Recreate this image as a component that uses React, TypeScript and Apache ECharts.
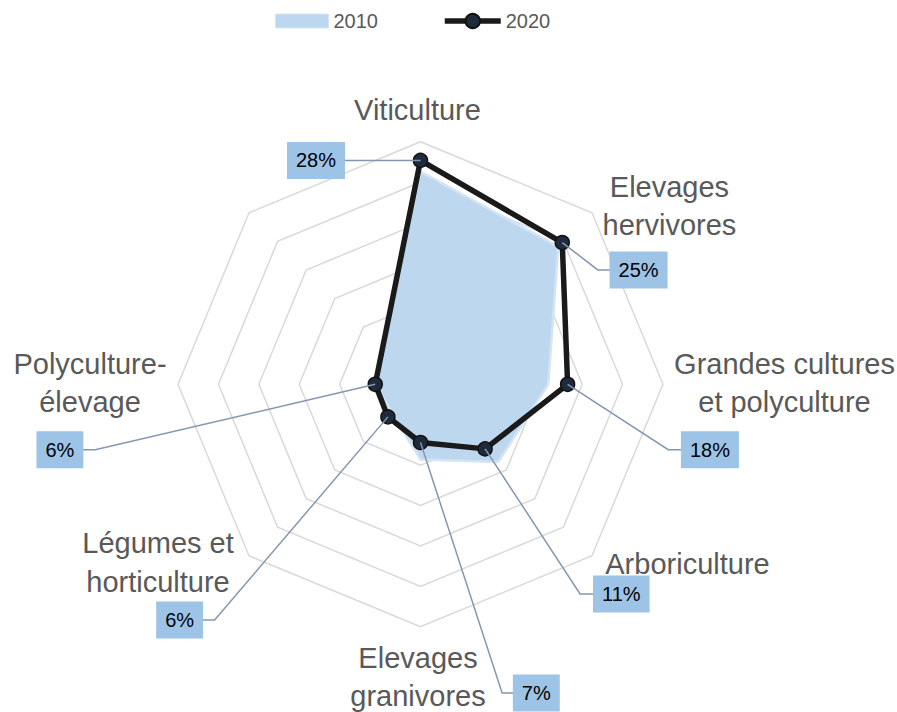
import React, { useEffect, useRef } from 'react';
import * as echarts from 'echarts';

// ---- data ----
const categories = [
  'Viticulture',
  'Elevages\nhervivores',
  'Grandes cultures\net polyculture',
  'Arboriculture',
  'Elevages\ngranivores',
  'Légumes et\nhorticulture',
  'Polyculture-\nélevage',
  '',
];
const seriesNames = ['2010', '2020'];
const values2010: (number | null)[] = [26.3, 24.1, 15.8, 13.6, 9.3, 5.0, 5.5, null];
const values2020: (number | null)[] = [27.7, 24.8, 18.2, 11.3, 7.2, 5.7, 5.6, null];
const axisMax = 30;
const axisStep = 5;

// ---- layout (offsets, not data) ----
// category name block centre, relative to the outer vertex of its axis
const nameOffsets: [number, number][] = [
  [-3, -31.5],
  [77.5, -7],
  [121.5, -1.5],
  [95.5, 7.8],
  [-2.5, 50.2],
  [-91, 6.7],
  [-88, -1.5],
  [0, 0],
];
// data label box centre (dx, dy) and leader elbow (ex, ey), relative to the point
const labelOffsets: { dx: number; dy: number; ex: number; ey: number }[] = [
  { dx: -104.5, dy: 0, ex: 0, ey: 0 },
  { dx: 76.3, dy: 27.4, ex: 35.6, ey: 27.4 },
  { dx: 142.3, dy: 65.4, ex: 100.6, ey: 65.4 },
  { dx: 136.2, dy: 145, ex: 95, ey: 145 },
  { dx: 115.8, dy: 250.6, ex: 81.6, ey: 250.6 },
  { dx: -208.3, dy: 203.2, ex: -173.3, ey: 203.2 },
  { dx: -315.3, dy: 65.5, ex: -280, ey: 65.5 },
  { dx: 0, dy: 0, ex: 0, ey: 0 },
];

const FONT = "'Liberation Sans', Arial, sans-serif";
const GRAY = '#595959';

export default function App() {
  const ref = useRef<HTMLDivElement>(null);

  useEffect(() => {
    document.body.style.margin = '0';
    const el = ref.current!;
    const chart = echarts.init(el, null, { renderer: 'svg' });
    const n = categories.length;
    const step = 360 / n;
    const center = [420.5, 384.3];
    const radius = 242.5;

    const buildData = (vals: (number | null)[]) => {
      const d: any[] = vals.map((v, i) => [v == null ? '-' : v, i * step]);
      d.push({ value: [vals[0], 360], symbol: 'none' });
      return d;
    };

    chart.setOption({
      animation: false,
      backgroundColor: '#ffffff',
      legend: [
        {
          data: [
            {
              name: seriesNames[0],
              icon: 'rect',
              itemStyle: { color: '#BDD7EE', borderColor: '#D6E6F5', borderWidth: 1 },
            },
          ],
          left: 275,
          top: 11,
          padding: 0,
          itemWidth: 53,
          itemHeight: 14,
          selectedMode: false,
          textStyle: { color: GRAY, fontSize: 20, fontFamily: FONT },
        },
        {
          data: [seriesNames[1]],
          left: 442,
          top: 11,
          padding: 0,
          itemWidth: 56,
          itemHeight: 18,
          selectedMode: false,
          lineStyle: { width: 5.5, color: '#1A1A1A' },
          textStyle: { color: GRAY, fontSize: 20, fontFamily: FONT },
        },
      ],
      radar: {
        center,
        radius,
        shape: 'polygon',
        splitNumber: axisMax / axisStep,
        indicator: categories.map((c) => ({ name: c, min: 0, max: axisMax })),
        axisName: { show: false },
        axisLine: { show: false },
        axisTick: { show: false },
        axisLabel: { show: false },
        splitArea: { show: false },
        splitLine: { lineStyle: { color: '#D9D9D9', width: 1.5 } },
        z: 0,
      },
      polar: { center, radius },
      angleAxis: {
        type: 'value',
        min: 0,
        max: 360,
        interval: step,
        startAngle: 90,
        clockwise: true,
        axisLine: { show: false },
        axisTick: { show: false },
        axisLabel: { show: false },
        splitLine: { show: false },
        splitArea: { show: false },
      },
      radiusAxis: {
        type: 'value',
        min: 0,
        max: axisMax,
        interval: axisStep,
        axisLine: { show: false },
        axisTick: { show: false },
        axisLabel: { show: false },
        splitLine: { show: false },
        splitArea: { show: false },
      },
      series: [
        {
          name: seriesNames[0],
          type: 'line',
          coordinateSystem: 'polar',
          data: buildData(values2010),
          connectNulls: true,
          symbol: 'none',
          showSymbol: false,
          lineStyle: { color: '#D3E4F4', width: 2.5 },
          itemStyle: { color: '#BDD7EE' },
          areaStyle: { color: '#BDD7EE', opacity: 1 },
          z: 2,
          silent: true,
        },
        {
          name: seriesNames[1],
          type: 'line',
          coordinateSystem: 'polar',
          data: buildData(values2020),
          connectNulls: true,
          symbol: 'circle',
          symbolSize: 14,
          showSymbol: true,
          lineStyle: { color: '#1A1A1A', width: 5.5 },
          itemStyle: { color: '#1F2B3D', borderColor: '#121212', borderWidth: 1.5 },
          z: 3,
        },
      ],
    });

    const px = (r: number, a: number) =>
      chart.convertToPixel({ polarIndex: 0 } as any, [r, a]) as unknown as number[];

    const graphics: any[] = [];
    categories.forEach((name, i) => {
      if (!name) return;
      const v = px(axisMax, i * step);
      const [ox, oy] = nameOffsets[i];
      graphics.push({
        type: 'text',
        x: v[0] + ox,
        y: v[1] + oy,
        z: 12,
        style: {
          text: name,
          fill: GRAY,
          fontSize: 29,
          fontFamily: FONT,
          lineHeight: 38.5,
          align: 'center',
          verticalAlign: 'middle',
          textAlign: 'center',
          textVerticalAlign: 'middle',
        },
      });
    });

    values2020.forEach((val, i) => {
      if (val == null) return;
      const p = px(val, i * step);
      const o = labelOffsets[i];
      const bx = p[0] + o.dx;
      const by = p[1] + o.dy;
      const elbow = [p[0] + o.ex, p[1] + o.ey];
      graphics.push({
        type: 'polyline',
        z: 10,
        shape: { points: [[p[0], p[1]], elbow, [bx, elbow[1]]] },
        style: { stroke: '#8497B0', lineWidth: 1.5, fill: 'none' },
      });
      graphics.push({
        type: 'text',
        x: bx,
        y: by,
        z: 11,
        style: {
          text: `${Math.round(val)}%`,
          fill: '#000000',
          fontSize: 20,
          fontFamily: FONT,
          lineHeight: 23,
          align: 'center',
          verticalAlign: 'middle',
          textAlign: 'center',
          textVerticalAlign: 'middle',
          backgroundColor: '#9DC3E6',
          padding: [7, 9, 7, 9],
        },
      });
    });

    chart.setOption({ graphic: graphics });

    return () => {
      chart.dispose();
    };
  }, []);

  return <div ref={ref} style={{ width: 897, height: 712 }} />;
}
